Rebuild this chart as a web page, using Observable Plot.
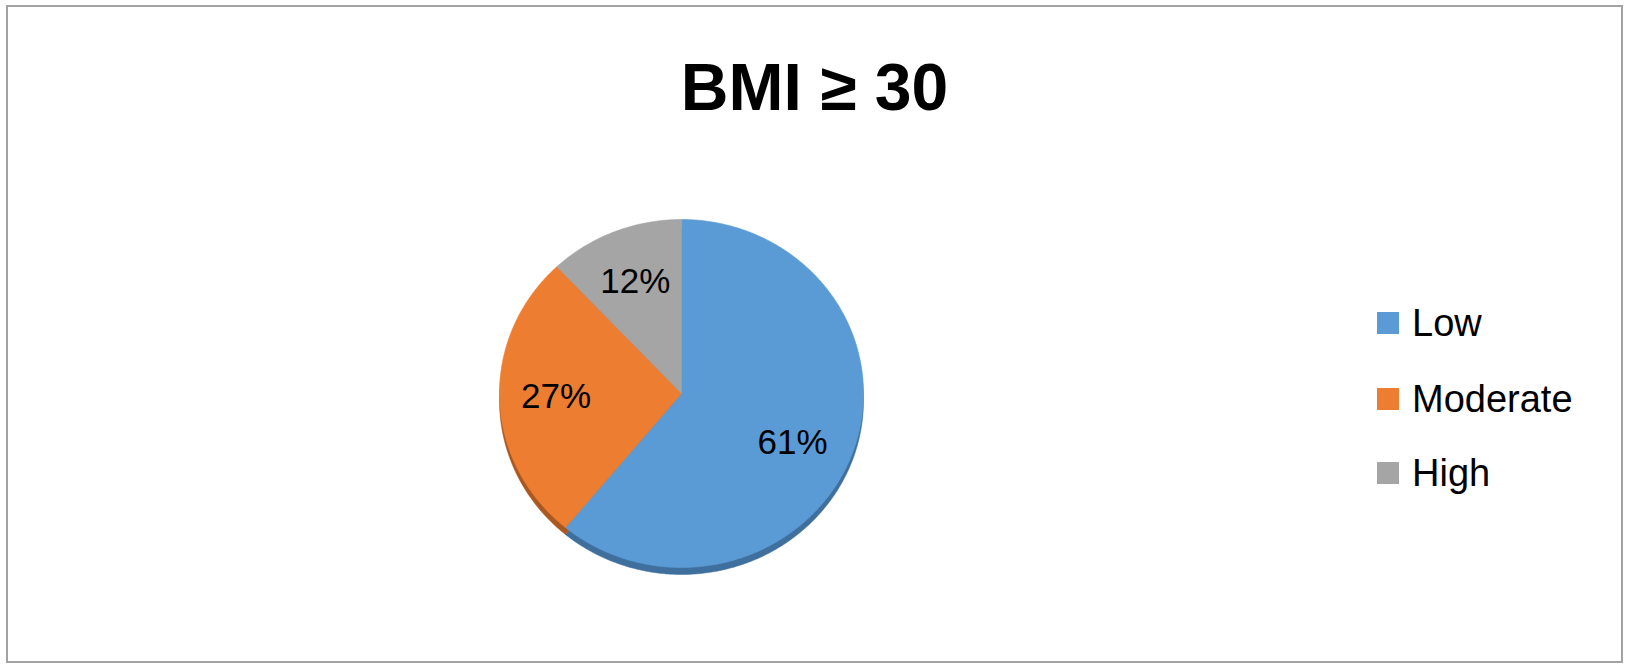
<!DOCTYPE html>
<html>
<head>
<meta charset="utf-8">
<script src="https://cdn.jsdelivr.net/npm/d3@7"></script>
<script src="https://cdn.jsdelivr.net/npm/@observablehq/plot@0.6"></script>
<style>
  html, body { margin: 0; padding: 0; background: #fff; }
  body { width: 1629px; height: 670px; position: relative; overflow: hidden; font-family: "Liberation Sans", Arial, sans-serif; }
  #frame { position: absolute; left: 6px; top: 5px; width: 1613px; height: 654px; border: 2px solid #a3a3a3; box-sizing: content-box; }
  #title { position: absolute; left: 0; width: 1629px; top: 54px; text-align: center; font-weight: bold; font-size: 66px; line-height: 66px; color: #000; }
  #chart { position: absolute; left: 0; top: 0; }
  .lg { position: absolute; left: 1377px; height: 38px; display: flex; align-items: center; font-size: 38px; line-height: 38px; color: #000; }
  .lg .sw { width: 22px; height: 22px; margin-right: 13px; }
</style>
</head>
<body>
<div id="frame"></div>
<div id="chart"></div>
<div id="title">BMI ≥ 30</div>
<div id="legend"></div>
<script>
const categories = ["Low", "Moderate", "High"];
const values = [61, 27, 12];
const labels = ["61%", "27%", "12%"];
const colors = ["#5b9bd5", "#ed7d31", "#a5a5a5"];
const shadowColors = ["#3f6f9c", "#a9581f", "#777777"];

const W = 1629, H = 670;
const cx = 681, cy = 393, rx = 182, ry = 174;

// build slice outlines (clockwise from top) from the values
const pie = d3.pie().sort(null).value(d => d.value);
const arcs = pie(categories.map((c, i) => ({key: c, value: values[i], label: labels[i]})));
const pts = [];
arcs.forEach(a => {
  const n = Math.max(2, Math.ceil((a.endAngle - a.startAngle) / 0.01));
  pts.push({key: a.data.key, x: 0, y: 0});
  for (let k = 0; k <= n; k++) {
    const t = a.startAngle + (a.endAngle - a.startAngle) * k / n;
    pts.push({key: a.data.key, x: Math.sin(t), y: Math.cos(t)});
  }
  pts.push({key: a.data.key, x: 0, y: 0});
});
const labelPts = arcs.map(a => {
  const m = (a.startAngle + a.endAngle) / 2;
  return {label: a.data.label, x: 0.69 * Math.sin(m), y: 0.69 * Math.cos(m)};
});
const textStyle = {x: "x", y: "y", text: "label", fontSize: 35, fill: "#000", fontFamily: "Liberation Sans, Arial, sans-serif", textAnchor: "middle", lineAnchor: "middle"};

const chart = Plot.plot({
  width: W,
  height: H,
  margin: 0,
  x: {domain: [-1, 1], range: [cx - rx, cx + rx], axis: null},
  y: {domain: [-1, 1], range: [cy + ry, cy - ry], axis: null},
  color: {domain: categories, range: colors},
  marks: [
    Plot.line(pts, {x: "x", y: "y", z: "key", fill: d => shadowColors[categories.indexOf(d.key)], stroke: d => shadowColors[categories.indexOf(d.key)], strokeWidth: 0.5, dy: 7}),
    Plot.line(pts, {x: "x", y: "y", z: "key", fill: "key", stroke: "key", strokeWidth: 0.6}),
    Plot.text(labelPts.slice(1), textStyle),
    Plot.text(labelPts.slice(0, 1), {...textStyle, dx: -7, dy: 9})
  ]
});
document.getElementById("chart").appendChild(chart);

// legend
const legendCenters = [323, 399, 473];
const lg = document.getElementById("legend");
categories.forEach((c, i) => {
  const row = document.createElement("div");
  row.className = "lg";
  row.style.top = (legendCenters[i] - 19) + "px";
  const sw = document.createElement("span");
  sw.className = "sw";
  sw.style.background = colors[i];
  const tx = document.createElement("span");
  tx.textContent = c;
  row.appendChild(sw); row.appendChild(tx);
  lg.appendChild(row);
});
</script>
</body>
</html>
